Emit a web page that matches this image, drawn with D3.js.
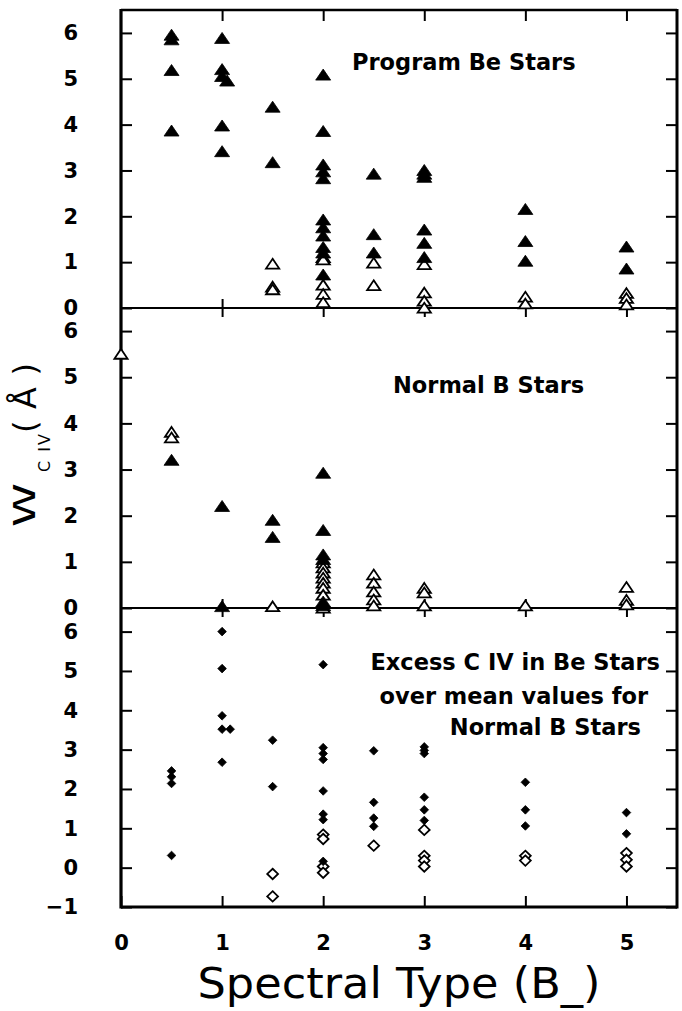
<!DOCTYPE html>
<html><head><meta charset="utf-8">
<script src="https://cdn.jsdelivr.net/npm/d3@7"></script>
<style>
html,body{margin:0;padding:0;background:#fff;}
svg{display:block;}
</style></head>
<body>
<script>
// ---- data ----
const xTickValues = [0, 1, 2, 3, 4, 5];
const yTicksTop = [0, 1, 2, 3, 4, 5, 6];
const yTicksMid = [0, 1, 2, 3, 4, 5, 6];
const yTicksBot = [-1, 0, 1, 2, 3, 4, 5, 6];
const panelTitles = [["Program Be Stars"], ["Normal B Stars"], ["Excess C IV in Be Stars", "over mean values for", "Normal B Stars"]];

// Program Be stars: [spectral subtype, W(C IV)]
const beFilled = [[0.5,5.95],[0.5,5.85],[0.5,5.18],[0.5,3.86],[1,5.88],[1,5.2],[1,5.05],[1.05,4.95],[1,3.97],[1,3.41],
  [1.5,4.38],[1.5,3.17],[2,5.08],[2,3.85],[2,3.12],[2,2.97],[2,2.82],[2,1.92],[2,1.75],[2,1.57],[2,1.32],[2,1.2],[2,0.72],
  [2.5,2.92],[2.5,1.6],[2.5,1.2],[3,3.0],[3,2.92],[3,2.85],[3,1.7],[3,1.41],[3,1.1],[4,2.15],[4,1.45],[4,1.02],[5,1.33],[5,0.85]];
const beOpen = [[1.5,0.96],[1.5,0.46],[1.5,0.4],[2,1.1],[2,1.05],[2,0.5],[2,0.3],[2,0.12],[2.5,0.98],[2.5,0.49],
  [3,0.95],[3,0.33],[3,0.15],[3,0.0],[4,0.24],[4,0.09],[5,0.32],[5,0.21],[5,0.07]];
// Normal B stars
const normalFilled = [[0.5,3.2],[1,2.2],[1,0.03],[1.5,1.9],[1.5,1.53],[2,2.92],[2,1.68],[2,1.15],[2,1.05],[2,0.13],[2,0.05]];
const normalOpen = [[0,5.5],[0.5,3.81],[0.5,3.69],[1.5,0.03],[2,0.98],[2,0.87],[2,0.76],[2,0.65],[2,0.54],[2,0.43],[2,0.28],[2,0.0],
  [2.5,0.72],[2.5,0.54],[2.5,0.35],[2.5,0.18],[2.5,0.05],[3,0.43],[3,0.33],[3,0.05],[4,0.05],[5,0.45],[5,0.17],[5,0.07]];
// Excess C IV
const excessFilled = [[0.5,2.46],[0.5,2.31],[0.5,2.14],[0.5,0.31],[1,6.0],[1,5.06],[1,3.86],[1,3.52],[1.08,3.52],[1,2.68],
  [1.5,3.24],[1.5,2.06],[2,5.16],[2,3.05],[2,2.9],[2,2.75],[2,1.95],[2,1.36],[2,1.22],[2,0.16],
  [2.5,2.97],[2.5,1.66],[2.5,1.26],[2.5,1.05],[3,3.07],[3,2.98],[3,2.9],[3,1.79],[3,1.47],[3,1.2],
  [4,2.17],[4,1.47],[4,1.06],[5,1.4],[5,0.86]];
const excessOpen = [[1.5,-0.16],[1.5,-0.73],[2,0.84],[2,0.73],[2,0.03],[2,-0.13],[2.5,0.56],[3,0.96],[3,0.3],[3,0.18],[3,0.03],
  [4,0.3],[4,0.18],[5,0.37],[5,0.2],[5,0.03]];

// ---- layout ----
const W = 682, H = 1011;
const svg = d3.select("body").append("svg").attr("width", W).attr("height", H);
const x = d3.scaleLinear().domain([0, 5.5]).range([121, 677]);
const yTop = d3.scaleLinear().domain([0, 6.5]).range([308, 10]);
const yMid = d3.scaleLinear().domain([0, 6.5]).range([608, 308]);
const yBot = d3.scaleLinear().domain([-1, 6.6]).range([907, 608]);
const FONT = "'DejaVu Sans', sans-serif";

function styleAxis(g, labels) {
  g.select(".domain").remove();
  g.selectAll(".tick line").attr("stroke", "#000").attr("stroke-width", 2);
  g.selectAll(".tick text").attr("font-family", FONT).attr("font-weight", "bold").attr("font-size", 21).attr("fill", "#000");
  if (!labels) g.selectAll(".tick text").remove();
}

// y axes
[[yTop, yTicksTop], [yMid, yTicksMid], [yBot, yTicksBot]].forEach(([ys, tv]) => {
  svg.append("g").attr("transform", `translate(${x(0)},0)`)
    .call(d3.axisLeft(ys).tickValues(tv).tickSize(-11).tickPadding(43).tickFormat(d3.format("d")))
    .call(g => styleAxis(g, true));
  svg.append("g").attr("transform", `translate(${x(5.5)},0)`)
    .call(d3.axisRight(ys).tickValues(tv).tickSize(-11))
    .call(g => styleAxis(g, false));
});

// x ticks
const xTickMarks = xTickValues.filter(v => v > 0);
svg.append("g").attr("transform", `translate(0,${yTop(6.5)})`)
  .call(d3.axisTop(x).tickValues(xTickMarks).tickSize(-11)).call(g => styleAxis(g, false));
[yTop(0), yMid(0)].forEach(yy => {
  svg.append("g").attr("transform", `translate(0,${yy})`)
    .call(d3.axisTop(x).tickValues(xTickMarks).tickSize(9)).call(g => styleAxis(g, false));
  svg.append("g").attr("transform", `translate(0,${yy})`)
    .call(d3.axisBottom(x).tickValues(xTickMarks).tickSize(9)).call(g => styleAxis(g, false));
});
svg.append("g").attr("transform", `translate(0,${yBot(-1)})`)
  .call(d3.axisBottom(x).tickValues(xTickValues).tickSize(-11).tickPadding(28).tickFormat(d3.format("d")))
  .call(g => styleAxis(g, true));

// frame
const fr = svg.append("g").attr("stroke", "#000").attr("fill", "none");
fr.append("line").attr("x1", x(0)).attr("x2", x(0)).attr("y1", yTop(6.5) - 1).attr("y2", yBot(-1) + 1.5).attr("stroke-width", 3.2);
fr.append("line").attr("x1", x(5.5)).attr("x2", x(5.5)).attr("y1", yTop(6.5) - 1).attr("y2", yBot(-1) + 1.5).attr("stroke-width", 3);
fr.append("line").attr("x1", x(0)).attr("x2", x(5.5)).attr("y1", yTop(6.5)).attr("y2", yTop(6.5)).attr("stroke-width", 2.6);
fr.append("line").attr("x1", x(0)).attr("x2", x(5.5)).attr("y1", yBot(-1)).attr("y2", yBot(-1)).attr("stroke-width", 3);
fr.append("line").attr("x1", x(0)).attr("x2", x(5.5)).attr("y1", yTop(0)).attr("y2", yTop(0)).attr("stroke-width", 2);
fr.append("line").attr("x1", x(0)).attr("x2", x(5.5)).attr("y1", yMid(0)).attr("y2", yMid(0)).attr("stroke-width", 2);

// markers
const triFilled = "M0,-6 L7.5,5 L-7.5,5 Z";
const triOpen = "M0,-5.2 L6.6,4.6 L-6.6,4.6 Z";
const diaFilled = "M0,-4.3 L4.3,0 L0,4.3 L-4.3,0 Z";
const diaOpen = "M0,-5.2 L5.4,0 L0,5.2 L-5.4,0 Z";
function plot(data, ys, path, filled) {
  const sorted = data.slice().sort((a, b) => b[1] - a[1]);
  svg.append("g").selectAll("path").data(sorted).join("path")
    .attr("d", path)
    .attr("transform", d => `translate(${x(d[0])},${ys(d[1])})`)
    .attr("fill", filled ? "#000" : "#fff")
    .attr("stroke", "#000")
    .attr("stroke-width", filled ? 0.8 : 1.8)
    .attr("stroke-linejoin", "miter");
}
plot(beOpen, yTop, triOpen, false);
plot(beFilled, yTop, triFilled, true);
plot(normalOpen, yMid, triOpen, false);
plot(normalFilled, yMid, triFilled, true);
plot(excessOpen, yBot, diaOpen, false);
plot(excessFilled, yBot, diaFilled, true);

// panel labels
const txt = (s, xx, yy, anchor) => svg.append("text").attr("x", xx).attr("y", yy).attr("text-anchor", anchor || "start")
  .attr("font-family", FONT).attr("font-weight", "bold").attr("font-size", 22.5).attr("fill", "#000").text(s);
txt(panelTitles[0][0], 352, 70);
txt(panelTitles[1][0], 393, 393);
txt(panelTitles[2][0], 660, 670, "end");
txt(panelTitles[2][1], 648, 704, "end");
txt(panelTitles[2][2], 641, 735, "end");

// axis titles
svg.append("text").attr("x", (x(0) + x(5.5)) / 2).attr("y", 998).attr("text-anchor", "middle")
  .attr("font-family", FONT).attr("font-size", 42).attr("fill", "#000")
  .attr("textLength", 403).attr("lengthAdjust", "spacingAndGlyphs").text("Spectral Type (B_)");

const yt = svg.append("g").attr("font-family", FONT).attr("fill", "#000");
yt.append("text").attr("transform", "translate(35,505) rotate(-90)").attr("text-anchor", "middle")
  .attr("font-size", 31).attr("textLength", 44).attr("lengthAdjust", "spacingAndGlyphs").text("W");
yt.append("text").attr("transform", "translate(50,452) rotate(-90)").attr("text-anchor", "middle")
  .attr("font-size", 16).attr("letter-spacing", 2).text("C  IV");
yt.append("text").attr("transform", "translate(36,398) rotate(-90)").attr("text-anchor", "middle")
  .attr("font-size", 32).attr("textLength", 70).attr("lengthAdjust", "spacing").text("(Å)");
</script>
</body></html>
